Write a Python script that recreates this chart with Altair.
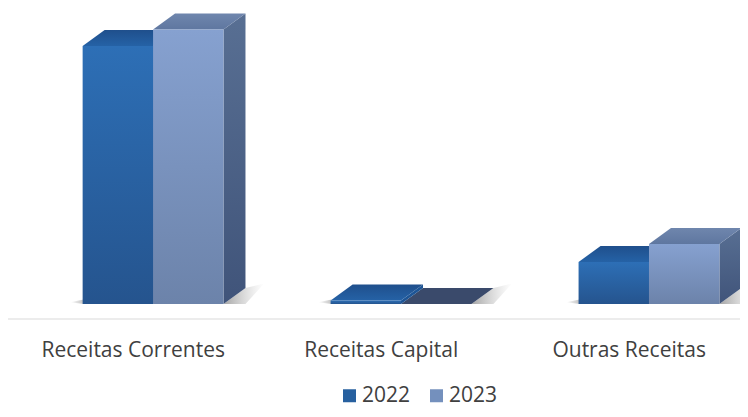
import altair as alt
import pandas as pd

categories = ["Receitas Correntes", "Receitas Capital", "Outras Receitas"]
years = ["2022", "2023"]
values_2022 = [94.0, 1.3, 15.3]
values_2023 = [100.0, 0.0, 21.9]

X_DOMAIN = [-0.585, 2.367]
Y_DOMAIN = [-38.25, 107.83]
BAR_W = 0.284
DX = 0.0887
DY = 5.83
LABEL_Y = -17.1
AXIS_Y = -5.46
FONT = "Open Sans"

xs = alt.Scale(domain=X_DOMAIN, nice=False, zero=False)
ys = alt.Scale(domain=Y_DOMAIN, nice=False, zero=False)


def grad(c1, c2, horizontal=False):
    return alt.Gradient(
        gradient="linear",
        stops=[alt.GradientStop(color=c1, offset=0), alt.GradientStop(color=c2, offset=1)],
        x1=0, x2=1 if horizontal else 0, y1=0, y2=0 if horizontal else 1,
    )


def front_rows(vals, shift):
    return pd.DataFrame([
        {"x": i + shift, "x2": i + shift + BAR_W, "y": v, "y0": 0}
        for i, v in enumerate(vals)
    ])


def top_rows(vals, shift, keep=lambda v: True):
    rows = []
    for i, v in enumerate(vals):
        if not keep(v):
            continue
        a = i + shift
        for x, lo, hi in [(a, v, v), (a + DX, v, v + DY), (a + BAR_W, v, v + DY), (a + BAR_W + DX, v + DY, v + DY)]:
            rows.append({"id": i, "x": x, "y": lo, "y0": hi})
    return pd.DataFrame(rows)


def side_rows(vals, shift):
    rows = []
    for i, v in enumerate(vals):
        a = i + shift + BAR_W
        rows += [{"id": i, "x": a, "y": 0, "y0": v}, {"id": i, "x": a + DX, "y": DY, "y0": v + DY}]
    return pd.DataFrame(rows)


def right_shadow_rows(vals):
    rows = []
    for i, v in enumerate(vals):
        a = i + BAR_W
        end = a + DX
        rows += [
            {"id": i, "x": a, "y": 0, "y0": 0},
            {"id": i, "x": end, "y": 0, "y0": DY},
            {"id": i, "x": end + 0.075, "y": DY + 1.6, "y0": DY + 1.6},
        ]
    return pd.DataFrame(rows)


def left_shadow_rows():
    rows = []
    for i in range(len(categories)):
        a = i - BAR_W
        rows += [
            {"id": i, "x": a - 0.05, "y": 0.6, "y0": 0.6},
            {"id": i, "x": a + 0.004, "y": 0, "y0": 1.6},
        ]
    return pd.DataFrame(rows)


def area(df, fill):
    return alt.Chart(df).mark_area(fill=fill, orient="vertical", line=False).encode(
        x=alt.X("x:Q", scale=xs, axis=None),
        y=alt.Y("y:Q", scale=ys, axis=None, stack=False),
        y2="y0:Q",
        detail="id:N",
    )


def bar(df, fill):
    return alt.Chart(df).mark_rect(fill=fill).encode(
        x=alt.X("x:Q", scale=xs, axis=None),
        x2="x2:Q",
        y=alt.Y("y:Q", scale=ys, axis=None),
        y2="y0:Q",
    )


has_height = lambda v: v > 0
no_height = lambda v: v <= 0

axis_line = alt.Chart(pd.DataFrame({"a": [X_DOMAIN[0]], "b": [X_DOMAIN[1]], "y": [AXIS_Y]})).mark_rule(
    color="#e6e6e6", strokeWidth=1.5
).encode(
    x=alt.X("a:Q", scale=xs, axis=None), x2="b:Q", y=alt.Y("y:Q", scale=ys, axis=None)
)

labels = alt.Chart(pd.DataFrame({
    "x": [i - 0.08 for i in range(len(categories))], "y": [LABEL_Y] * len(categories), "t": categories
})).mark_text(font=FONT, fontSize=21, color="#404040", align="center", baseline="middle").encode(
    x=alt.X("x:Q", scale=xs, axis=None), y=alt.Y("y:Q", scale=ys, axis=None), text="t:N"
)

legend_layer = alt.Chart(pd.DataFrame({"ano": years, "x": [0, 1], "y": [0, 0]})).mark_square(opacity=0).encode(
    x=alt.X("x:Q", scale=xs, axis=None),
    y=alt.Y("y:Q", scale=ys, axis=None),
    color=alt.Color("ano:N", scale=alt.Scale(domain=years, range=["#27609f", "#7490bd"]), legend=alt.Legend(
        title=None, orient="none", legendX=331, legendY=377, direction="horizontal",
        symbolType="square", symbolSize=169, symbolOpacity=1, symbolStrokeWidth=0,
        labelFont=FONT, labelFontSize=21, labelColor="#404040", columnPadding=15, labelOffset=2,
    )),
)

chart = alt.layer(
    axis_line,
    area(left_shadow_rows(), grad("rgba(120,120,120,0)", "rgba(120,120,120,0.45)", True)),
    area(right_shadow_rows(values_2023), grad("rgba(90,90,90,0.55)", "rgba(150,150,150,0)", True)),
    area(top_rows(values_2023, 0, no_height), "#3a4a6b"),
    area(side_rows(values_2023, 0), grad("#586f93", "#40547a")),
    area(top_rows(values_2023, 0, has_height), grad("#6f86ad", "#5f77a0")),
    area(side_rows(values_2022, -BAR_W), "#1d5596"),
    area(top_rows(values_2022, -BAR_W), grad("#1f4f8c", "#2562a6")),
    bar(front_rows(values_2022, -BAR_W), grad("#2d6fb6", "#25548e")),
    bar(front_rows(values_2023, 0), grad("#86a1d0", "#6c83aa")),
    labels,
    legend_layer,
).properties(
    width=732, height=401, padding=0, autosize=alt.AutoSizeParams(type="none"), background="#ffffff"
).configure_view(stroke=None)

chart.save("out.html", embed_options={"renderer": "svg", "actions": False})
